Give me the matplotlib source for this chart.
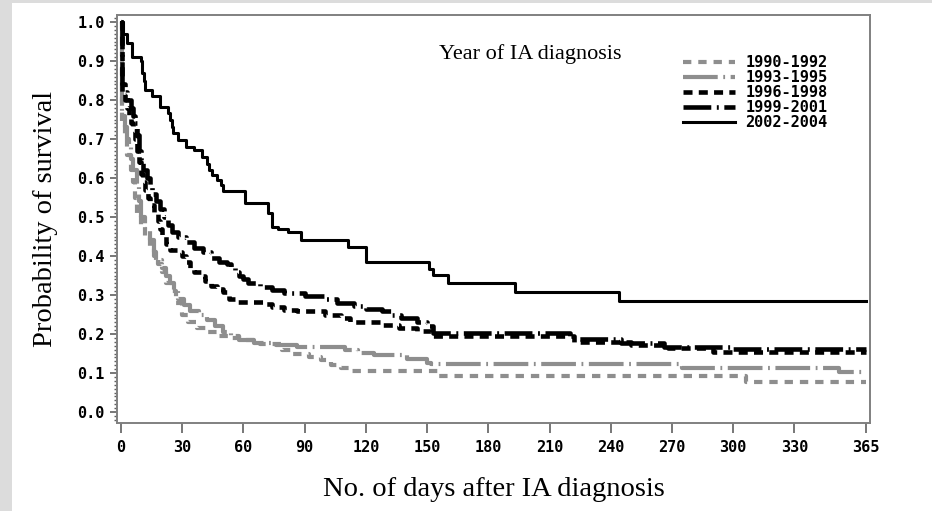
import numpy as np
import matplotlib
matplotlib.use("Agg")
import matplotlib.pyplot as plt
from matplotlib.patches import Rectangle
from matplotlib.ticker import MultipleLocator

# Kaplan-Meier step points (day, survival)
days_9092 = [0, 0.5, 2, 3, 5, 6, 7, 8, 10, 12, 14, 16, 18, 20, 22, 25, 27, 30, 33, 37, 42, 48,
             54, 60, 68, 79, 84, 92, 98, 103, 108, 112, 156, 306, 365]
surv_9092 = [1.0, 0.74, 0.70, 0.66, 0.62, 0.59, 0.55, 0.51, 0.48, 0.45, 0.42, 0.40, 0.38, 0.36,
             0.33, 0.31, 0.28, 0.25, 0.23, 0.215, 0.205, 0.195, 0.19, 0.185, 0.175, 0.159, 0.15,
             0.14, 0.133, 0.12, 0.112, 0.106, 0.092, 0.077, 0.077]

days_9395 = [0, 0.5, 2, 3, 4, 5, 6, 8, 9, 10, 12, 14, 16, 17, 20, 22, 24, 26, 28, 31, 34, 38, 42,
             46, 50, 54, 58, 65, 76, 86, 110, 116, 124, 140, 150, 152, 275, 352, 365]
surv_9395 = [1.0, 0.76, 0.73, 0.70, 0.68, 0.65, 0.62, 0.58, 0.54, 0.50, 0.47, 0.44, 0.41, 0.39,
             0.37, 0.35, 0.33, 0.31, 0.29, 0.275, 0.26, 0.25, 0.235, 0.22, 0.205, 0.195, 0.185,
             0.178, 0.172, 0.167, 0.159, 0.152, 0.146, 0.137, 0.125, 0.122, 0.112, 0.102, 0.102]

days_9698 = [0, 0.5, 2, 3, 4, 5, 6, 7, 8, 9, 10, 11, 12, 13, 14, 16, 18, 19, 20, 22, 24, 28, 30,
             32, 34, 36, 40, 41, 44, 47, 50, 53, 56, 70, 74, 80, 86, 100, 108, 112, 128, 136, 145,
             152, 222, 250, 268, 290, 365]
surv_9698 = [1.0, 0.82, 0.80, 0.78, 0.76, 0.74, 0.72, 0.70, 0.67, 0.64, 0.61, 0.59, 0.57, 0.55,
             0.53, 0.51, 0.49, 0.47, 0.455, 0.43, 0.415, 0.41, 0.40, 0.385, 0.37, 0.36, 0.35, 0.335,
             0.322, 0.315, 0.308, 0.29, 0.283, 0.278, 0.27, 0.262, 0.258, 0.25, 0.24, 0.232, 0.223,
             0.215, 0.208, 0.195, 0.18, 0.172, 0.165, 0.155, 0.155]

days_9901 = [0, 0.5, 2, 3, 5, 6, 7, 8, 9, 10, 11, 12.5, 14, 15, 17, 19, 21, 23, 25, 28, 32, 36,
             40, 44, 48, 52, 54, 56, 58, 60, 62, 68, 74, 80, 90, 100, 106, 114, 120, 128, 133, 137,
             145, 150, 153, 220, 245, 266, 300, 365]
surv_9901 = [1.0, 0.84, 0.82, 0.80, 0.78, 0.76, 0.74, 0.71, 0.67, 0.645, 0.62, 0.60, 0.58, 0.56,
             0.54, 0.52, 0.50, 0.48, 0.462, 0.45, 0.435, 0.42, 0.41, 0.395, 0.385, 0.38, 0.37, 0.36,
             0.35, 0.34, 0.33, 0.32, 0.313, 0.305, 0.298, 0.29, 0.28, 0.272, 0.265, 0.258, 0.25,
             0.24, 0.23, 0.22, 0.202, 0.188, 0.178, 0.168, 0.162, 0.162]

days_0204 = [0, 1, 2.8, 5.2, 9.6, 10.5, 11.2, 12, 15, 19, 23, 24, 24.8, 25.5, 28, 32, 36, 39.5,
             42, 43, 44.5, 47, 49, 50, 61, 72, 74, 77, 82, 88, 111, 120, 151, 153, 160, 193, 244,
             365]
surv_0204 = [1.0, 0.97, 0.946, 0.91, 0.90, 0.87, 0.85, 0.826, 0.81, 0.783, 0.766, 0.75, 0.73,
             0.715, 0.697, 0.68, 0.672, 0.655, 0.635, 0.62, 0.608, 0.595, 0.582, 0.567, 0.535,
             0.51, 0.475, 0.47, 0.462, 0.441, 0.424, 0.385, 0.368, 0.351, 0.33, 0.308, 0.285,
             0.285]

labels = ["1990-1992", "1993-1995", "1996-1998", "1999-2001", "2002-2004"]
xtick_vals = [0, 30, 60, 90, 120, 150, 180, 210, 240, 270, 300, 330, 365]

plt.rcParams['lines.scale_dashes'] = False
serif = ['Liberation Serif', 'DejaVu Serif']
mono = ['DejaVu Sans Mono']

fig = plt.figure(figsize=(9.32, 5.11), dpi=100, facecolor='white')
# light gray page margin on the left and top
fig.patches.append(Rectangle((0, 0), 12 / 932, 1, transform=fig.transFigure,
                             facecolor='#dcdcdc', edgecolor='none', zorder=-5))
fig.patches.append(Rectangle((0, 508 / 511), 1, 3 / 511, transform=fig.transFigure,
                             facecolor='#dcdcdc', edgecolor='none', zorder=-5))
ax = fig.add_axes([117 / 932, 1 - 423 / 511, 753 / 932, 408 / 511])
ax.set_facecolor('white')

gray = '#8e8e8e'
ax.step(days_9092, surv_9092, where='post', color=gray, lw=3, dashes=(6, 5), label=labels[0])
ax.step(days_9395, surv_9395, where='post', color=gray, lw=3, dashes=(25, 4, 1.3, 4),
        label=labels[1])
ax.step(days_9698, surv_9698, where='post', color='black', lw=3.3, dashes=(6.5, 4.5),
        label=labels[2])
ax.step(days_9901, surv_9901, where='post', color='black', lw=3.3, dashes=(20, 4, 1.4, 4),
        label=labels[3])
ax.step(days_0204, surv_0204, where='post', color='black', lw=2.2, label=labels[4])

ax.set_xlim(-1.96, 367)
ax.set_ylim(-0.028, 1.018)
ax.set_xticks(xtick_vals)
ax.set_yticks(np.arange(0, 1.01, 0.1))
ax.yaxis.set_minor_locator(MultipleLocator(0.01))
ax.set_yticklabels([f"{v:.1f}" for v in np.arange(0, 1.01, 0.1)])

for s in ax.spines.values():
    s.set_color('#808080')
    s.set_linewidth(1.4)
ax.tick_params(axis='x', direction='out', length=7, width=1.2, color='#606060', pad=5,
               labelsize=11)
ax.tick_params(axis='y', which='major', direction='out', length=5, width=1.2, color='#606060',
               pad=4, labelsize=11)
ax.tick_params(axis='y', which='minor', direction='out', length=2.5, width=1, color='#606060')
for t in ax.get_xticklabels() + ax.get_yticklabels():
    t.set_family(mono)
    t.set_fontweight('bold')

ax.set_xlabel("No. of days after IA diagnosis", family=serif, fontsize=20.5, labelpad=16)
ax.set_ylabel("Probability of survival", family=serif, fontsize=20.5, labelpad=14)

ax.text(0.5485, 0.905, "Year of IA diagnosis", transform=ax.transAxes, family=serif,
        fontsize=16, ha='center', va='center')

leg = ax.legend(loc='upper left', bbox_to_anchor=(0.741, 0.92), frameon=False,
                prop={'family': mono, 'weight': 'bold', 'size': 11}, handlelength=3.4,
                handletextpad=0.7, labelspacing=0.0, borderpad=0)

fig.savefig("out.png", dpi=100, facecolor=fig.get_facecolor())
